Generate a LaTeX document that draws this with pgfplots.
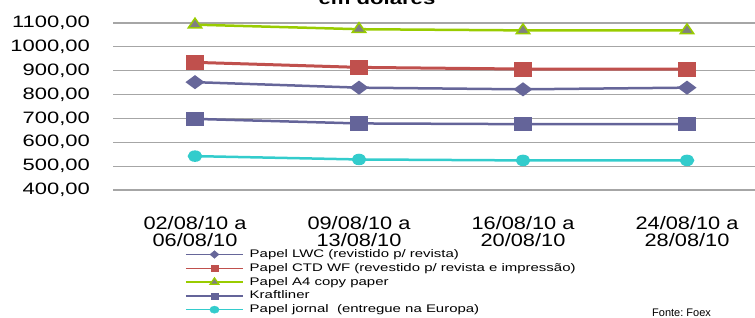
\documentclass[border=0pt]{standalone}
\usepackage{fontspec}
\setmainfont{Liberation Sans}
\newfontfamily\yfont{Liberation Sans}[FakeStretch=1.33]
\newfontfamily\xfont{Liberation Sans}[FakeStretch=1.21]
\newfontfamily\lfont{Liberation Sans}[FakeStretch=1.36]
\newfontfamily\tfont{Liberation Sans}[FakeStretch=1.3]
\usepackage{pgfplots}
\pgfplotsset{compat=1.18}
\definecolor{cLWC}{HTML}{666699}
\definecolor{cCTD}{HTML}{C0504D}
\definecolor{cA4}{HTML}{99CC00}
\definecolor{cKraft}{HTML}{646499}
\definecolor{cJornal}{HTML}{33CCCC}
\definecolor{cGrid}{HTML}{A6A6A6}
\begin{document}
\begin{tikzpicture}[x=1pt,y=1pt]
\useasboundingbox (0,0) rectangle (755,318);
\begin{axis}[
  at={(113pt,128pt)}, anchor=south west,
  scale only axis, width=656pt, height=167pt,
  xmin=-0.5, xmax=3.5, ymin=400, ymax=1100,
  axis line style={draw=none},
  major tick length=0pt,
  ytick={400,500,...,1100},
  ymajorgrids, grid style={cGrid, line width=1.2pt},
  xtick={0,1,2,3},
  xticklabels={{02/08/10 a\\06/08/10},{09/08/10 a\\13/08/10},{16/08/10 a\\20/08/10},{24/08/10 a\\28/08/10}},
  xticklabel style={align=center, font=\xfont\fontsize{18}{17}\selectfont, inner sep=0pt, yshift=-26pt},
  /pgf/number format/assume math mode=true,
  yticklabel={\pgfmathprintnumber[fixed,fixed zerofill,precision=2,use comma,1000 sep={}]{\tick}},
  yticklabel style={font=\yfont\fontsize{16.5}{17}\selectfont, inner sep=0pt, xshift=-23pt},
  clip=false,
  legend style={at={(axis description cs:0.1098,-0.355)}, anchor=north west, draw=none, fill=none,
    font=\lfont\fontsize{11}{13}\selectfont, inner sep=0pt, row sep=3.8pt, column sep=6pt,
    nodes={inner sep=0pt, text height=8pt, text depth=2pt},
    cells={anchor=west}},
  legend image code/.code={\draw[#1,mark repeat=2,mark phase=2] plot coordinates {(0pt,0pt) (28.5pt,0pt) (57pt,0pt)};},
]
\addplot[forget plot, cLWC, line width=2.5pt, mark=diamond*, mark size=5.5pt, mark options={xscale=1.8, solid}] coordinates {(0,852) (1,829) (2,822) (3,829)};
\addplot[forget plot, cCTD, line width=3pt, mark=square*, mark size=6pt, mark options={xscale=1.25}] coordinates {(0,935) (1,914) (2,907) (3,907)};
\addplot[forget plot, cA4, line width=2.5pt, mark=triangle*, mark size=6.5pt, mark options={xscale=1.2, fill=gray, draw=cA4, line width=1.5pt}] coordinates {(0,1093) (1,1074) (2,1069) (3,1069)};
\addplot[forget plot, cKraft, line width=2.5pt, mark=square*, mark size=6pt, mark options={xscale=1.25}] coordinates {(0,698) (1,679) (2,676) (3,676)};
\addplot[forget plot, cJornal, line width=2.5pt, mark=*, mark size=4.5pt, mark options={xscale=1.33}] coordinates {(0,542) (1,528) (2,524) (3,524)};
\addlegendimage{cLWC, line width=1.5pt, mark=diamond*, mark size=3.8pt, mark options={xscale=1.6, line width=0.4pt}}
\addlegendentry{Papel LWC (revistido p/ revista)}
\addlegendimage{cCTD, line width=1.5pt, mark=square*, mark size=3pt, mark options={xscale=1.2, line width=0.4pt}}
\addlegendentry{Papel CTD WF (revestido p/ revista e impressão)}
\addlegendimage{cA4, line width=1.5pt, mark=triangle*, mark size=4.2pt, mark options={xscale=1.2, fill=gray, draw=cA4, line width=1.2pt}}
\addlegendentry{Papel A4 copy paper}
\addlegendimage{cKraft, line width=1.5pt, mark=square*, mark size=3pt, mark options={xscale=1.2, line width=0.4pt}}
\addlegendentry{Kraftliner}
\addlegendimage{cJornal, line width=1.5pt, mark=*, mark size=3.6pt, mark options={xscale=1.3, line width=0.4pt}}
\addlegendentry{Papel jornal\ \ (entregue na Europa)}
\end{axis}
\node[anchor=base, font=\tfont\bfseries\fontsize{17}{17}\selectfont] at (377,313) {em dólares};
\node[anchor=base west, font=\fontsize{11}{13}\selectfont, inner sep=0pt] at (652,1.5) {Fonte:\ Foex};
\end{tikzpicture}
\end{document}
